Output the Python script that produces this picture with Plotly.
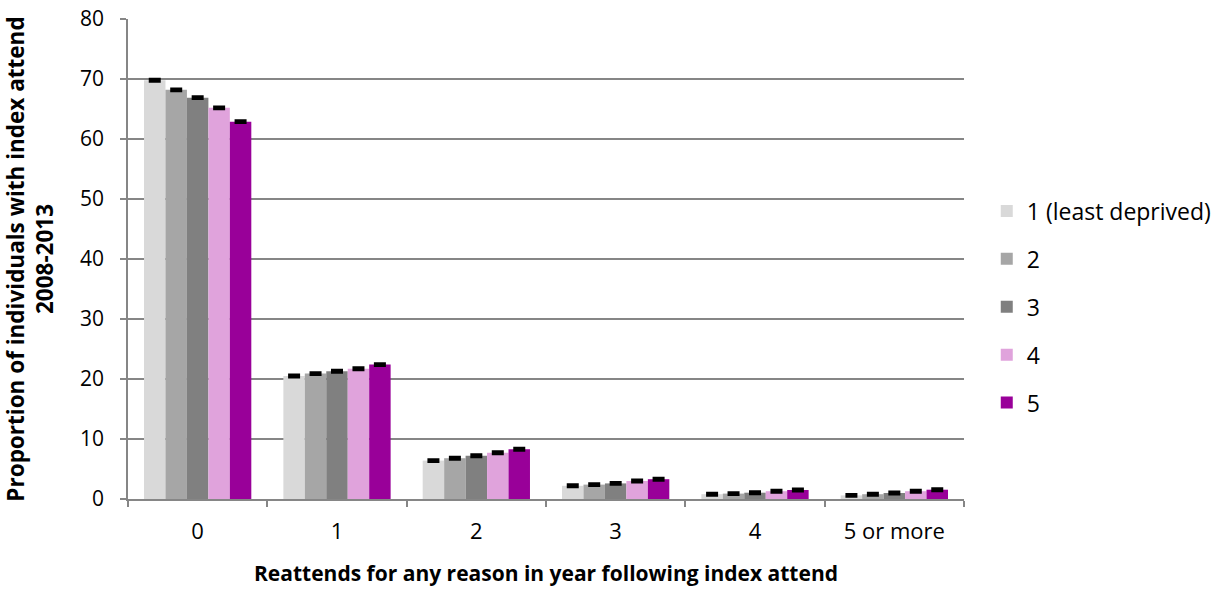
import plotly.graph_objects as go

categories = ["0", "1", "2", "3", "4", "5 or more"]
series_names = ["1 (least deprived)", "2", "3", "4", "5"]
values = {
    "1 (least deprived)": [69.8, 20.5, 6.4, 2.2, 0.8, 0.6],
    "2": [68.2, 20.9, 6.8, 2.4, 0.9, 0.8],
    "3": [66.9, 21.3, 7.2, 2.6, 1.05, 1.0],
    "4": [65.2, 21.7, 7.7, 3.0, 1.3, 1.3],
    "5": [62.9, 22.4, 8.3, 3.3, 1.5, 1.55],
}
errors = [0.2, 0.2, 0.2, 0.2, 0.2, 0.2]
colors = ["#D9D9D9", "#A6A6A6", "#808080", "#E0A3DC", "#990099"]

font = "'Open Sans', sans-serif"
fig = go.Figure()
for name, col in zip(series_names, colors):
    fig.add_trace(go.Bar(
        x=categories, y=values[name], name=name, marker_color=col,
        marker_line_width=0, legendgroup=name,
        error_y=dict(type="data", array=errors, visible=True, color="black",
                     thickness=2.5, width=6),
    ))

fig.update_layout(
    width=1228, height=589,
    margin=dict(l=128, r=263, t=19, b=90),
    plot_bgcolor="white", paper_bgcolor="white",
    barmode="group", bargap=0.23, bargroupgap=0,
    font=dict(family=font, size=22, color="black"),
    legend=dict(x=1.026, y=0.40, yanchor="middle", xanchor="left",
                font=dict(size=23), itemwidth=30, tracegroupgap=15),
    xaxis=dict(
        title=dict(text="<b>Reattends for any reason in year following index attend</b>",
                   font=dict(size=21), standoff=22),
        showline=True, linecolor="#868686", linewidth=1.5,
        ticks="outside", tickson="boundaries", ticklen=6, tickcolor="#868686",
        tickwidth=1.5, automargin=False, tickfont=dict(size=22),
        ticklabelstandoff=12,
    ),
    yaxis=dict(
        title=dict(text="<b>Proportion of individuals with index attend<br>2008-2013</b>",
                   font=dict(size=22.5), standoff=33),
        range=[0, 80.01], tick0=0, dtick=10,
        showline=True, linecolor="#868686", linewidth=1.5,
        gridcolor="#868686", gridwidth=1.5,
        ticks="outside", ticklen=6, tickcolor="#868686", tickwidth=1.5,
        zeroline=False, automargin=False, tickfont=dict(size=21),
        ticklabelstandoff=12, ticklabeloverflow="allow",
    ),
)
fig.write_html("out.html", config={"displayModeBar": False},
               post_script="document.body.style.margin='0';")
